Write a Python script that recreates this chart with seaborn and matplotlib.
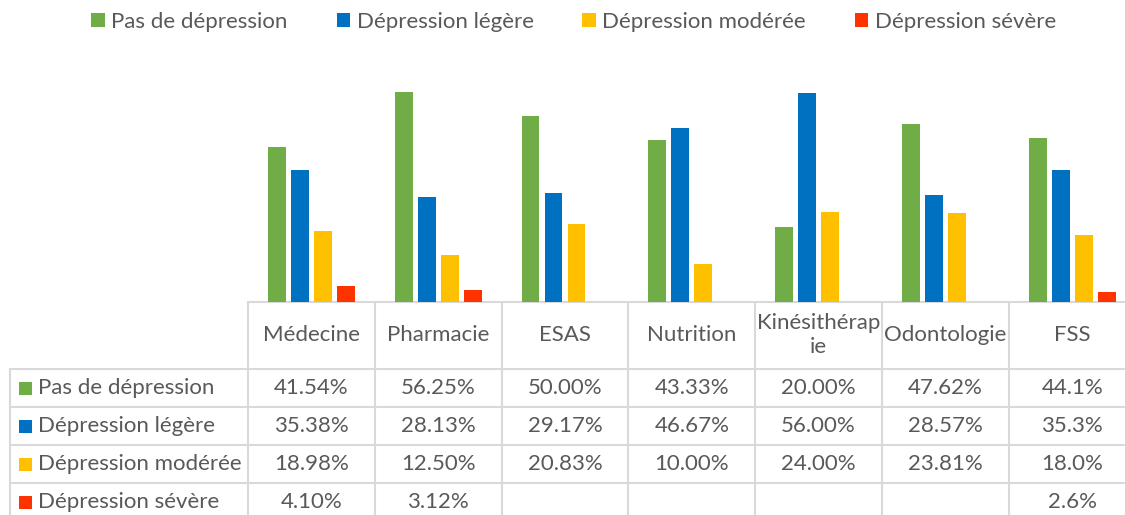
import matplotlib
matplotlib.use("Agg")
import matplotlib.pyplot as plt
import numpy as np
import pandas as pd
import seaborn as sns

# donnees du graphique
facultes = ["Médecine", "Pharmacie", "ESAS", "Nutrition", "Kinésithérapie", "Odontologie", "FSS"]
entetes = ["Médecine", "Pharmacie", "ESAS", "Nutrition", "Kinésithérap\nie", "Odontologie", "FSS"]
niveaux = ["Pas de dépression", "Dépression légère", "Dépression modérée", "Dépression sévère"]
pas_depression = [41.54, 56.25, 50.00, 43.33, 20.00, 47.62, 44.1]
dep_legere = [35.38, 28.13, 29.17, 46.67, 56.00, 28.57, 35.3]
dep_moderee = [18.98, 12.50, 20.83, 10.00, 24.00, 23.81, 18.0]
dep_severe = [4.10, 3.12, np.nan, np.nan, np.nan, np.nan, 2.6]
decimales = [2, 2, 2, 2, 2, 2, 1]
couleurs = ["#70AD47", "#0070C0", "#FFC000", "#FF3300"]

series = [pas_depression, dep_legere, dep_moderee, dep_severe]
rows = []
for niv, vals in zip(niveaux, series):
    for fac, v in zip(facultes, vals):
        rows.append({"Faculte": fac, "Niveau": niv, "Valeur": v})
df = pd.DataFrame(rows)

sns.set_style("white")
plt.rcParams["font.family"] = ["Lato", "DejaVu Sans"]
gris_texte = "#595959"
gris_ligne = "#D9D9D9"
fs = 16

W, H = 1125, 515
fig = plt.figure(figsize=(W / 100, H / 100), dpi=100)

# axe "pixels" pour le tableau
tax = fig.add_axes([0, 0, 1, 1])
tax.set_xlim(0, W)
tax.set_ylim(H, 0)
tax.axis("off")

x0 = 248
col_w = 126.8
base_y = 301.7
top_y = 78.3
n = len(facultes)

ax = fig.add_axes([x0 / W, (H - base_y) / H, n * col_w / W, (base_y - top_y) / H])
sns.barplot(data=df, x="Faculte", y="Valeur", hue="Niveau", order=facultes,
            hue_order=niveaux, palette=couleurs, saturation=1, width=0.725,
            gap=0.22, ax=ax, linewidth=0, errorbar=None)
ax.set_xlim(-0.5, n - 0.5)
ax.set_ylim(0, 60)
ax.axis("off")

handles, labels = ax.get_legend_handles_labels()
ax.legend_.remove()
fig.legend(handles, labels, loc="upper center", bbox_to_anchor=(0.51, 1.015), ncol=4,
           frameon=False, handlelength=0.6, handleheight=0.6, handletextpad=0.3,
           columnspacing=2.2, fontsize=fs, labelcolor=gris_texte)

# grille du tableau
lw = 1.5
row_lines = [369, 406.7, 445, 483]
right = W + 20
tax.plot([x0, right], [base_y, base_y], color=gris_ligne, lw=lw)
for y in row_lines:
    tax.plot([10, right], [y, y], color=gris_ligne, lw=lw)
tax.plot([10, 10], [row_lines[0], H + 5], color=gris_ligne, lw=lw)
for i in range(n + 1):
    x = x0 + i * col_w
    tax.plot([x, x], [base_y, H + 5], color=gris_ligne, lw=lw)

# entetes de colonnes
for i, lab in enumerate(entetes):
    cx = x0 + (i + 0.5) * col_w
    tax.text(cx, 335, lab, ha="center", va="center", fontsize=fs, color=gris_texte,
             linespacing=1.25)

# lignes de valeurs
row_centers = [388, 426, 464, 502]
for niv, vals, col, cy in zip(niveaux, series, couleurs, row_centers):
    tax.add_patch(plt.Rectangle((19, cy - 6.5), 13, 13, color=col, lw=0))
    tax.text(38, cy, niv, ha="left", va="center", fontsize=fs, color=gris_texte)
    for i, (v, d) in enumerate(zip(vals, decimales)):
        if np.isnan(v):
            continue
        cx = x0 + (i + 0.5) * col_w
        tax.text(cx, cy, f"{v:.{d}f}%", ha="center", va="center", fontsize=fs,
                 color=gris_texte)

fig.savefig("out.png", dpi=100)
